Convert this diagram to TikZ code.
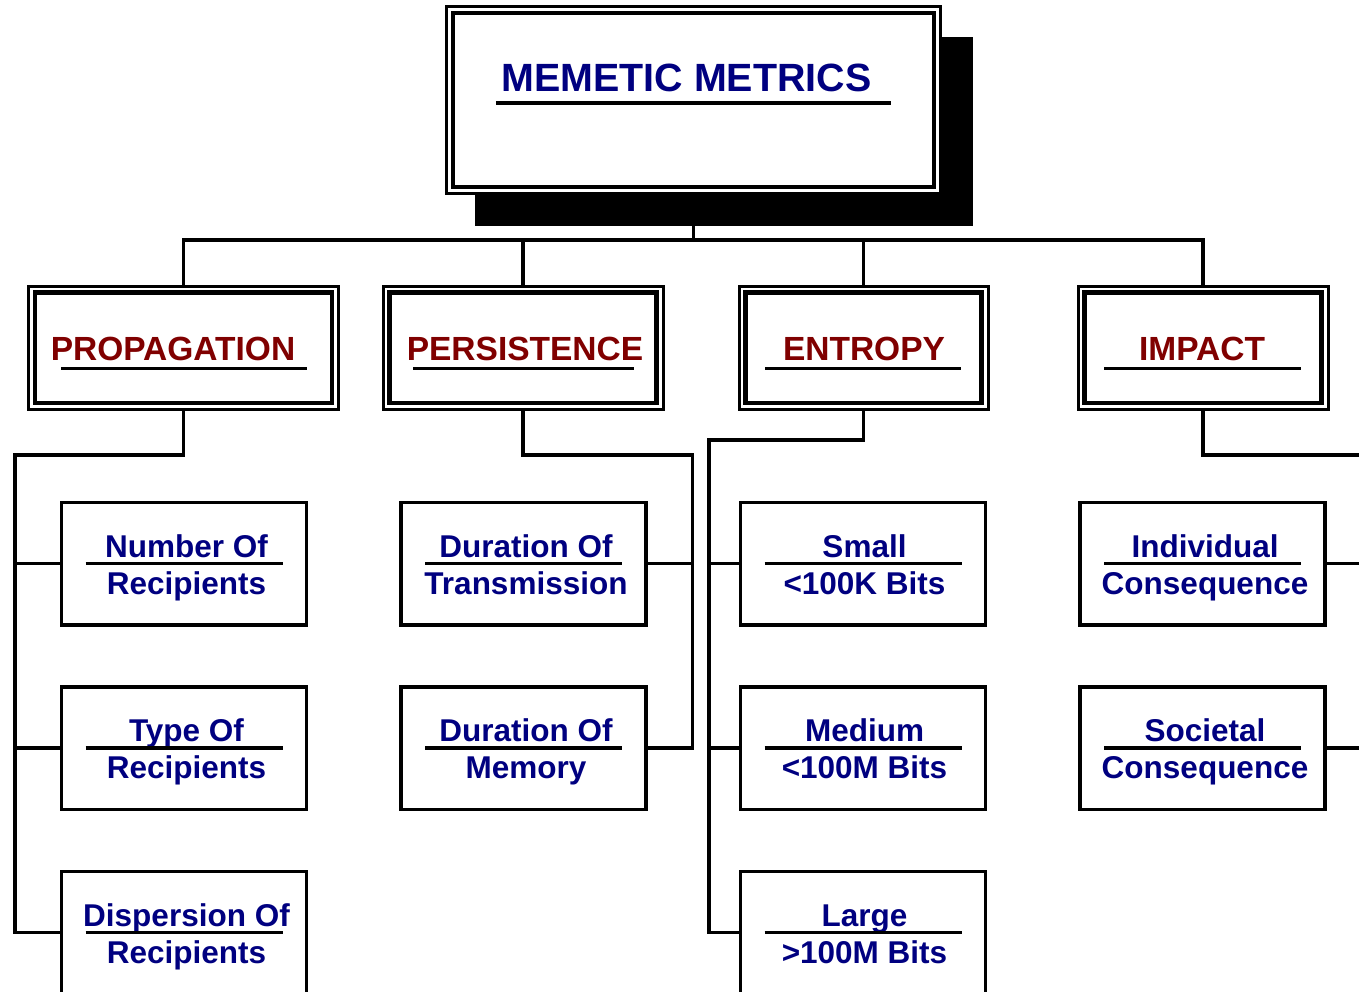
\documentclass[tikz,border=0pt]{standalone}
\usepackage{fontspec}
\setmainfont{Liberation Sans}
\usetikzlibrary{fit,backgrounds}
\definecolor{memeBlue}{rgb}{0.0, 0.0, 0.5}
\definecolor{memeRed}{rgb}{0.5, 0.0, 0.0}

\begin{document}
\begin{tikzpicture}[x=1pt, y=-1pt,
    titlebox/.style={draw, line width=4pt, fill=white, minimum width=480.5pt, minimum height=174pt, inner sep=0pt, outer sep=0pt},
    catbox/.style={draw, line width=4.5pt, minimum height=110.5pt, inner sep=0pt, outer sep=0pt},
    childbox/.style={draw, line width=3.5pt, minimum width=245pt, minimum height=122.5pt, inner sep=0pt, outer sep=0pt},
    outerframe/.style={draw, line width=3pt, inner sep=6.5pt, outer sep=0pt},
    link/.style={line width=3.5pt},
    uline/.style={line width=3.5pt},
    titletext/.style={anchor=base, inner sep=0pt, text=memeBlue, font=\bfseries\fontsize{39.4}{44}\selectfont},
    cattext/.style={anchor=base, inner sep=0pt, text=memeRed, font=\bfseries\fontsize{33.5}{38}\selectfont},
    childtext/.style={anchor=base, inner sep=0pt, text=memeBlue, font=\bfseries\fontsize{31.5}{36}\selectfont}]

    \useasboundingbox (0,0) rectangle (1359,991);

    % title
    \node[titlebox] (title) at (693.25,99.5) {};
    \node[titletext] (titlelbl) at ([xshift=-6.75pt, yshift=8pt]title.center) {MEMETIC METRICS};
    \draw[uline] ([xshift=-197.5pt, yshift=-3.5pt]title.center) -- ([xshift=197.5pt, yshift=-3.5pt]title.center);
    \begin{scope}[on background layer]
        \fill ([xshift=22pt, yshift=-24.5pt]title.north west) rectangle ([xshift=39.5pt, yshift=-39.5pt]title.south east);
        \node[outerframe, fill=white, fit=(title)] (titlef) {};
    \end{scope}

    % categories
    \node[catbox, minimum width=297pt] (prop) at (183.5,347.75) {};
    \node[outerframe, fit=(prop)] (propf) {};
    \node[cattext] (proplbl) at ([xshift=-10.5pt, yshift=-12.25pt]prop.center) {PROPAGATION};
    \draw[uline] ([xshift=-122.5pt, yshift=-20.75pt]prop.center) -- ([xshift=123.5pt, yshift=-20.75pt]prop.center);

    \node[catbox, minimum width=267pt] (pers) at (523,347.75) {};
    \node[outerframe, fit=(pers)] (persf) {};
    \node[cattext] (perslbl) at ([xshift=2pt, yshift=-12.25pt]pers.center) {PERSISTENCE};
    \draw[uline] ([xshift=-110pt, yshift=-20.75pt]pers.center) -- ([xshift=111pt, yshift=-20.75pt]pers.center);

    \node[catbox, minimum width=236pt] (entr) at (863.5,347.75) {};
    \node[outerframe, fit=(entr)] (entrf) {};
    \node[cattext] (entrlbl) at ([xshift=0.5pt, yshift=-12.25pt]entr.center) {ENTROPY};
    \draw[uline] ([xshift=-98.5pt, yshift=-20.75pt]entr.center) -- ([xshift=97.5pt, yshift=-20.75pt]entr.center);

    \node[catbox, minimum width=237pt] (imp) at (1203,347.75) {};
    \node[outerframe, fit=(imp)] (impf) {};
    \node[cattext] (implbl) at ([xshift=-1pt, yshift=-12.25pt]imp.center) {IMPACT};
    \draw[uline] ([xshift=-99pt, yshift=-20.75pt]imp.center) -- ([xshift=98pt, yshift=-20.75pt]imp.center);

    % propagation column
    \node[childbox] (prop1) at (184,563.5) {};
    \node[childtext] (prop1a) at ([xshift=2.5pt, yshift=6.5pt]prop1.center) {Number Of};
    \node[childtext] (prop1b) at ([xshift=2.5pt, yshift=-30.5pt]prop1.center) {Recipients};
    \draw[uline] ([xshift=-98.5pt]prop1.center) -- ([xshift=98.5pt]prop1.center);

    \node[childbox] (prop2) at (184,748) {};
    \node[childtext] (prop2a) at ([xshift=2.5pt, yshift=6.5pt]prop2.center) {Type Of};
    \node[childtext] (prop2b) at ([xshift=2.5pt, yshift=-30.5pt]prop2.center) {Recipients};
    \draw[uline] ([xshift=-98.5pt]prop2.center) -- ([xshift=98.5pt]prop2.center);

    \node[childbox] (prop3) at (184,932.5) {};
    \node[childtext] (prop3a) at ([xshift=2.5pt, yshift=6.5pt]prop3.center) {Dispersion Of};
    \node[childtext] (prop3b) at ([xshift=2.5pt, yshift=-30.5pt]prop3.center) {Recipients};
    \draw[uline] ([xshift=-98.5pt]prop3.center) -- ([xshift=98.5pt]prop3.center);

    % persistence column
    \node[childbox] (pers1) at (523.5,563.5) {};
    \node[childtext] (pers1a) at ([xshift=2.5pt, yshift=6.5pt]pers1.center) {Duration Of};
    \node[childtext] (pers1b) at ([xshift=2.5pt, yshift=-30.5pt]pers1.center) {Transmission};
    \draw[uline] ([xshift=-98.5pt]pers1.center) -- ([xshift=98.5pt]pers1.center);

    \node[childbox] (pers2) at (523.5,748) {};
    \node[childtext] (pers2a) at ([xshift=2.5pt, yshift=6.5pt]pers2.center) {Duration Of};
    \node[childtext] (pers2b) at ([xshift=2.5pt, yshift=-30.5pt]pers2.center) {Memory};
    \draw[uline] ([xshift=-98.5pt]pers2.center) -- ([xshift=98.5pt]pers2.center);

    % entropy column
    \node[childbox] (entr1) at (863,563.5) {};
    \node[childtext] (entr1a) at ([xshift=1.5pt, yshift=6.5pt]entr1.center) {Small};
    \node[childtext] (entr1b) at ([xshift=1.5pt, yshift=-30.5pt]entr1.center) {<100K Bits};
    \draw[uline] ([xshift=-98.5pt]entr1.center) -- ([xshift=98.5pt]entr1.center);

    \node[childbox] (entr2) at (863,748) {};
    \node[childtext] (entr2a) at ([xshift=1.5pt, yshift=6.5pt]entr2.center) {Medium};
    \node[childtext] (entr2b) at ([xshift=1.5pt, yshift=-30.5pt]entr2.center) {<100M Bits};
    \draw[uline] ([xshift=-98.5pt]entr2.center) -- ([xshift=98.5pt]entr2.center);

    \node[childbox] (entr3) at (863,932.5) {};
    \node[childtext] (entr3a) at ([xshift=1.5pt, yshift=6.5pt]entr3.center) {Large};
    \node[childtext] (entr3b) at ([xshift=1.5pt, yshift=-30.5pt]entr3.center) {>100M Bits};
    \draw[uline] ([xshift=-98.5pt]entr3.center) -- ([xshift=98.5pt]entr3.center);

    % impact column
    \node[childbox] (imp1) at (1202.5,563.5) {};
    \node[childtext] (imp1a) at ([xshift=2.5pt, yshift=6.5pt]imp1.center) {Individual};
    \node[childtext] (imp1b) at ([xshift=2.5pt, yshift=-30.5pt]imp1.center) {Consequence};
    \draw[uline] ([xshift=-98.5pt]imp1.center) -- ([xshift=98.5pt]imp1.center);

    \node[childbox] (imp2) at (1202.5,748) {};
    \node[childtext] (imp2a) at ([xshift=2.5pt, yshift=6.5pt]imp2.center) {Societal};
    \node[childtext] (imp2b) at ([xshift=2.5pt, yshift=-30.5pt]imp2.center) {Consequence};
    \draw[uline] ([xshift=-98.5pt]imp2.center) -- ([xshift=98.5pt]imp2.center);

    % top bus
    \coordinate (titledrop) at ([yshift=-39.5pt]title.south);
    \coordinate (bus) at ([yshift=-14pt]titledrop);
    \draw[link] (titledrop) -- (bus);
    \draw[link] (propf.north) |- (bus) -| (impf.north);
    \draw[link] (persf.north) -- (persf.north |- bus);
    \draw[link] (entrf.north) -- (entrf.north |- bus);

    % propagation links
    \coordinate (propturn) at (15,455);
    \draw[link] (propf.south) |- (propturn) |- (prop3.west);
    \draw[link] (prop1.west -| propturn) -- (prop1.west);
    \draw[link] (prop2.west -| propturn) -- (prop2.west);

    % persistence links
    \coordinate (persturn) at (692.5,455);
    \draw[link] (persf.south) |- (persturn) |- (pers2.east);
    \draw[link] (pers1.east) -- (pers1.east -| persturn);

    % entropy links
    \coordinate (entrturn) at (709,440);
    \draw[link] (entrf.south) |- (entrturn) |- (entr3.west);
    \draw[link] (entr1.west -| entrturn) -- (entr1.west);
    \draw[link] (entr2.west -| entrturn) -- (entr2.west);

    % impact links
    \coordinate (impturn) at (1359,455);
    \draw[link] (impf.south) |- (impturn);
    \draw[link] (imp1.east) -- (imp1.east -| impturn);
    \draw[link] (imp2.east) -- (imp2.east -| impturn);

\end{tikzpicture}
\end{document}
